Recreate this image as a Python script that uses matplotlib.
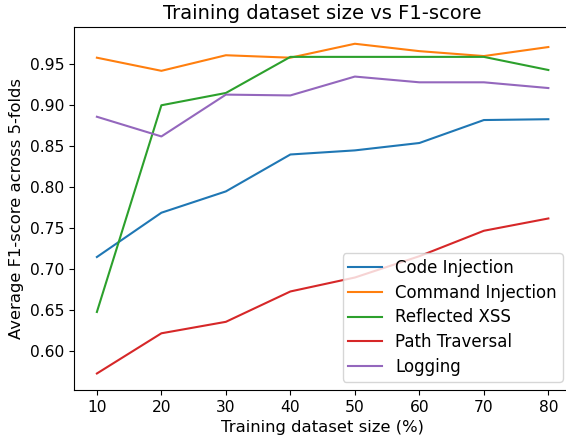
import matplotlib
matplotlib.use("Agg")
import matplotlib.pyplot as plt

sizes = [10, 20, 30, 40, 50, 60, 70, 80]

code_injection = [0.715, 0.769, 0.795, 0.840, 0.845, 0.854, 0.882, 0.883]
command_injection = [0.958, 0.942, 0.961, 0.958, 0.975, 0.966, 0.960, 0.971]
reflected_xss = [0.648, 0.900, 0.915, 0.959, 0.959, 0.959, 0.959, 0.943]
path_traversal = [0.573, 0.622, 0.636, 0.673, 0.690, 0.716, 0.747, 0.762]
logging_scores = [0.886, 0.862, 0.913, 0.912, 0.935, 0.928, 0.928, 0.921]

series = [
	("Code Injection", code_injection),
	("Command Injection", command_injection),
	("Reflected XSS", reflected_xss),
	("Path Traversal", path_traversal),
	("Logging", logging_scores),
]

fig = plt.figure(figsize=(5.66, 4.37), dpi=100)
ax = fig.add_axes([0.1313, 0.1076, 0.8774, 0.830])

for name, vals in series:
	ax.plot(sizes, vals, label=name, linewidth=1.5)

ax.set_xticks(sizes)
ax.tick_params(axis="both", labelsize=11.2)
ax.set_xlabel("Training dataset size (%)", fontsize=11.8)
ax.set_ylabel("Average F1-score across 5-folds", fontsize=11.8)
ax.set_title("Training dataset size vs F1-score", fontsize=14)
ax.legend(loc="lower right", fontsize=12, labelspacing=0.4, borderpad=0.35)

fig.savefig("out.png", dpi=100)
